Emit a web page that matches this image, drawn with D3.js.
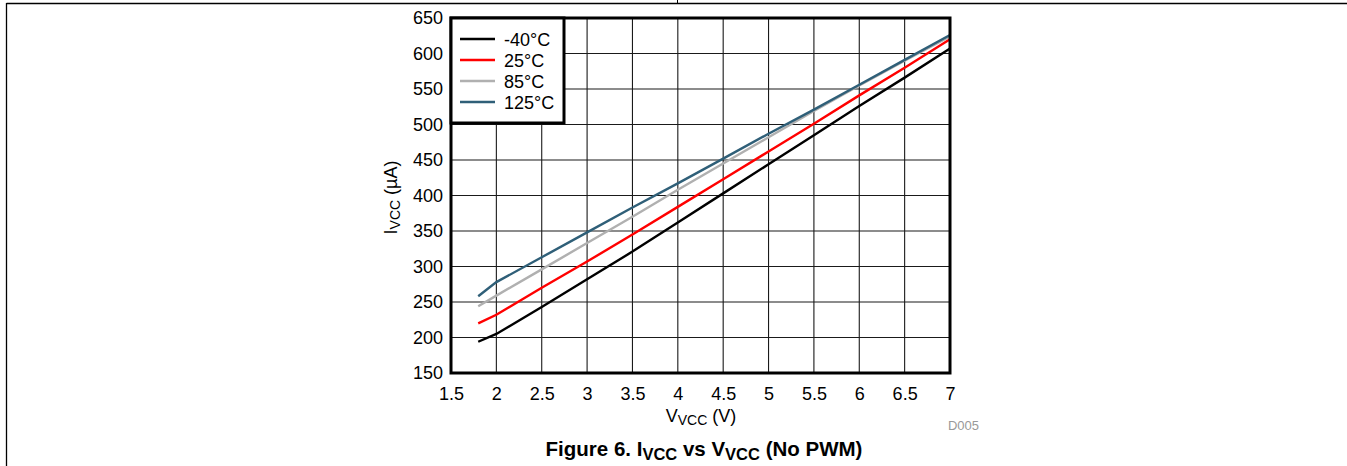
<!DOCTYPE html>
<html>
<head>
<meta charset="utf-8">
<script src="https://cdn.jsdelivr.net/npm/d3@7"></script>
<style>
  body { margin: 0; background: #fff; }
  svg { display: block; font-family: Arial, "Liberation Sans", sans-serif; }
</style>
</head>
<body>
<svg id="chart" width="1347" height="466"></svg>
<script>
// supply voltage (V)
const vcc = [1.8, 2, 2.5, 3, 3.5, 4, 4.5, 5, 5.5, 6, 6.5, 7]

// supply current (uA) per temperature
const iccM40 = [194, 205, 243, 282, 321, 362, 403, 444, 485, 526, 566, 607]
const icc25 = [220, 232, 270, 307, 345, 384, 423, 462, 501, 541, 580, 620]
const icc85 = [244, 259, 296, 333, 370, 408, 445, 482, 519, 555, 590, 624]
const icc125 = [258, 278, 313, 348, 383, 417, 452, 487, 521, 556, 591, 626]

const seriesNames = ['-40°C', '25°C', '85°C', '125°C']
const seriesColors = ['#000000', '#ff0000', '#b0b0b0', '#2f5f78']

const xTicks = [1.5, 2, 2.5, 3, 3.5, 4, 4.5, 5, 5.5, 6, 6.5, 7]
const yTicks = [150, 200, 250, 300, 350, 400, 450, 500, 550, 600, 650]

let svg = d3.select('#chart')

// page frame lines
svg.append('line')
    .attr('x1', 6.5).attr('y1', 3.5).attr('x2', 1347).attr('y2', 3.5)
    .attr('stroke', '#000').attr('stroke-width', 1.3)
svg.append('line')
    .attr('x1', 6.5).attr('y1', 3).attr('x2', 6.5).attr('y2', 466)
    .attr('stroke', '#000').attr('stroke-width', 1.3)
svg.append('line')
    .attr('x1', 677.5).attr('y1', 0).attr('x2', 677.5).attr('y2', 3)
    .attr('stroke', '#000').attr('stroke-width', 1)

let pLeft = 451, pRight = 950, pTop = 18, pBottom = 373

let x = d3.scaleLinear().domain([1.5, 7]).range([pLeft, pRight])
let y = d3.scaleLinear().domain([150, 650]).range([pBottom, pTop])

// grid
let grid = svg.append('g')
grid.selectAll('.vg').data(xTicks).enter().append('line')
    .attr('x1', d => x(d)).attr('x2', d => x(d))
    .attr('y1', pTop).attr('y2', pBottom)
    .attr('stroke', '#1a1a1a').attr('stroke-width', 1.1)
grid.selectAll('.hg').data(yTicks).enter().append('line')
    .attr('x1', pLeft).attr('x2', pRight)
    .attr('y1', d => y(d)).attr('y2', d => y(d))
    .attr('stroke', '#1a1a1a').attr('stroke-width', 1.1)

// axes
let xAxis = svg.append('g')
    .attr('transform', 'translate(0,' + (pBottom + 11) + ')')
    .call(d3.axisBottom(x).tickValues(xTicks).tickSize(0).tickFormat(d3.format('')))
xAxis.select('.domain').remove()
xAxis.selectAll('text').attr('font-size', 18).attr('fill', '#000')
    .attr('font-family', 'Arial, "Liberation Sans", sans-serif')

let yAxis = svg.append('g')
    .attr('transform', 'translate(' + (pLeft - 5) + ',0)')
    .call(d3.axisLeft(y).tickValues(yTicks).tickSize(0))
yAxis.select('.domain').remove()
yAxis.selectAll('text').attr('font-size', 18).attr('fill', '#000')
    .attr('font-family', 'Arial, "Liberation Sans", sans-serif')

// lines
let allSeries = [iccM40, icc25, icc85, icc125]
let line = d3.line().x((d, i) => x(vcc[i])).y(d => y(d))

let plot = svg.append('g')
allSeries.forEach((s, k) => {
    plot.append('path')
        .attr('d', line(s))
        .attr('fill', 'none')
        .attr('stroke', seriesColors[k])
        .attr('stroke-width', 2.4)
})

// plot frame
svg.append('rect')
    .attr('x', pLeft).attr('y', pTop)
    .attr('width', pRight - pLeft).attr('height', pBottom - pTop)
    .attr('fill', 'none').attr('stroke', '#000').attr('stroke-width', 3)

// legend
let lg = svg.append('g')
lg.append('rect')
    .attr('x', pLeft).attr('y', pTop)
    .attr('width', 113).attr('height', 105)
    .attr('fill', '#fff').attr('stroke', '#000').attr('stroke-width', 3)
seriesNames.forEach((n, k) => {
    let ly = 39 + k * 21
    lg.append('line')
        .attr('x1', 460).attr('x2', 495)
        .attr('y1', ly).attr('y2', ly)
        .attr('stroke', seriesColors[k]).attr('stroke-width', 2.4)
    lg.append('text')
        .attr('x', 504).attr('y', ly + 6.5)
        .attr('font-size', 18)
        .text(n)
})

// axis titles
let xt = svg.append('text')
    .attr('x', 701).attr('y', 422)
    .attr('text-anchor', 'middle')
    .attr('font-size', 18)
xt.append('tspan').text('V')
xt.append('tspan').attr('font-size', 14).attr('dy', 3).text('VCC')
xt.append('tspan').attr('dy', -3).text(' (V)')

let yt = svg.append('text')
    .attr('transform', 'translate(397,' + ((pTop + pBottom) / 2 + 2) + ') rotate(-90)')
    .attr('text-anchor', 'middle')
    .attr('font-size', 18)
yt.append('tspan').text('I')
yt.append('tspan').attr('font-size', 14).attr('dy', 3).text('VCC')
yt.append('tspan').attr('dy', -3).text(' (µA)')

svg.append('text')
    .attr('x', 979).attr('y', 430)
    .attr('text-anchor', 'end')
    .attr('font-size', 13)
    .attr('fill', '#999')
    .text('D005')

// caption
let cap = svg.append('text')
    .attr('x', 704).attr('y', 456)
    .attr('text-anchor', 'middle')
    .attr('font-size', 20.5)
    .attr('font-weight', 'bold')
cap.append('tspan').text('Figure 6. I')
cap.append('tspan').attr('font-size', 16.5).attr('dy', 4).text('VCC')
cap.append('tspan').attr('dy', -4).text(' vs V')
cap.append('tspan').attr('font-size', 16.5).attr('dy', 4).text('VCC')
cap.append('tspan').attr('dy', -4).text(' (No PWM)')
</script>
</body>
</html>
